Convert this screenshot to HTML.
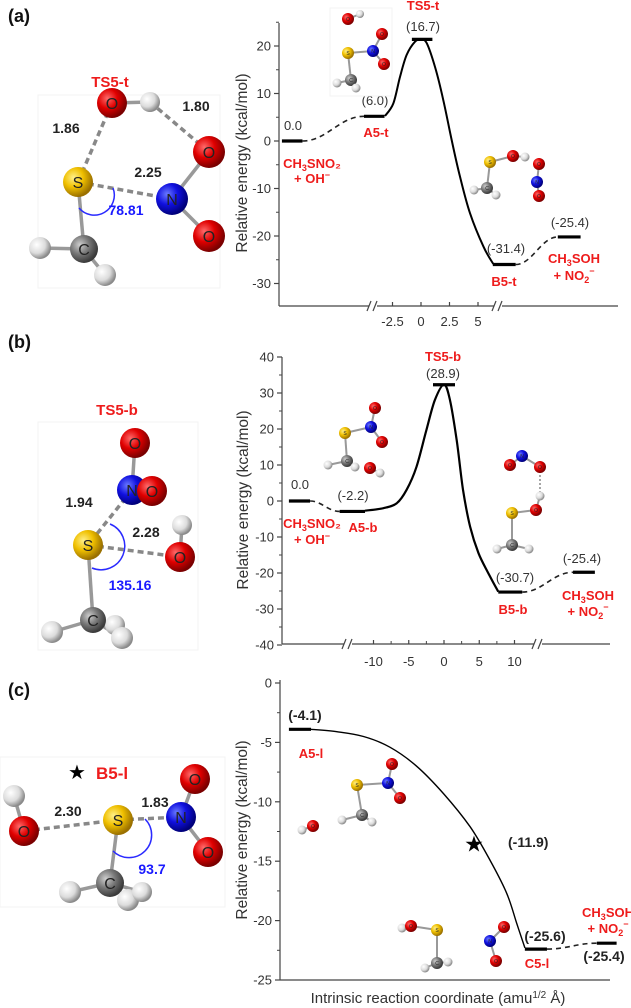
<!DOCTYPE html>
<html><head><meta charset="utf-8">
<style>
html,body{margin:0;padding:0;background:#fff;}
svg{display:block;font-family:"Liberation Sans",Arial,sans-serif;}
.tick{font-size:13px;fill:#333;}
.lab{font-size:13px;fill:#333;}
.red{font-size:13px;fill:#ee1c1c;font-weight:bold;}
.bl{font-size:14px;font-weight:bold;fill:#222;}
.blue{font-size:14px;font-weight:bold;fill:#1a1aff;}
</style></head>
<body>
<svg id="fig" width="631" height="1008" viewBox="0 0 631 1008" xmlns="http://www.w3.org/2000/svg">
<defs>
<radialGradient id="gO" cx="35%" cy="35%" r="65%"><stop offset="0" stop-color="#ff6b6b"/><stop offset="0.5" stop-color="#e00000"/><stop offset="1" stop-color="#7a0000"/></radialGradient>
<radialGradient id="gN" cx="35%" cy="35%" r="65%"><stop offset="0" stop-color="#6b7bff"/><stop offset="0.5" stop-color="#1010e0"/><stop offset="1" stop-color="#00007a"/></radialGradient>
<radialGradient id="gS" cx="35%" cy="35%" r="65%"><stop offset="0" stop-color="#fff08a"/><stop offset="0.5" stop-color="#f0c000"/><stop offset="1" stop-color="#9a7000"/></radialGradient>
<radialGradient id="gC" cx="35%" cy="35%" r="65%"><stop offset="0" stop-color="#cfcfcf"/><stop offset="0.5" stop-color="#7a7a7a"/><stop offset="1" stop-color="#3a3a3a"/></radialGradient>
<radialGradient id="gH" cx="35%" cy="35%" r="65%"><stop offset="0" stop-color="#ffffff"/><stop offset="0.6" stop-color="#dcdcdc"/><stop offset="1" stop-color="#8a8a8a"/></radialGradient>
</defs>
<g id="root"></g>
</svg>
<script>
// ---------- chart data ----------
// Panel (a)
const aLevelNames = ["reactant","A5-t","TS5-t","B5-t","product"];
const aLevelE = [0, 5.2, 21.4, -26, -20.2];
const aLevelU0 = [-12.2, -5, -0.8, 6.3, 12];
const aLevelU1 = [-10.4, -3.2, 1, 8.3, 14];
const aIrcU = [-3.16,-2.43,-1.84,-1.26,-0.53,0,0.5,1.23,1.96,2.69,3.42,4.3,5.47,6.34];
const aIrcE = [5.26,7.9,13.5,18.1,20.9,21.3,20.6,15.6,8.6,0.2,-7.5,-15.2,-22.2,-25.9];
const aYTicks = [20,10,0,-10,-20,-30];
const aXTicks = [-2.5,0,2.5,5];
// Panel (b)
const bLevelE = [0, -2.9, 32.3, -25.3, -19.8];
const bLevelU0 = [-22, -14.8, -1.56, 7.7, 18.3];
const bLevelU1 = [-19, -11.2, 1.56, 11.1, 21.4];
const bIrcU = [-11.2,-8.6,-6.7,-5.3,-3.9,-2.5,-1.3,0,0.85,1.8,2.7,3.7,4.9,6.3,7.7];
const bIrcE = [-2.7,-2.0,-0.6,3.1,9.5,19.7,28,32.3,28,16.9,3.1,-7.1,-14.5,-20.1,-25.2];
const bYTicks = [40,30,20,10,0,-10,-20,-30,-40];
const bXTicks = [-10,-5,0,5,10];
// Panel (c)
const cLevelE = [-3.9, -22.4, -21.9];
const cLevelU0 = [2.7, 74.2, 96];
const cLevelU1 = [9.4, 80.9, 102];
const cIrcU = [9.4,17.2,25.3,33.3,41.4,49.5,57.6,63.6,68.7,71.7,74.2];
const cIrcE = [-3.9,-4.1,-4.5,-5.4,-7.0,-9.3,-12.1,-14.9,-17.7,-20.2,-22.3];
const cStar = [58.8, -13.5];
const cYTicks = [0,-5,-10,-15,-20,-25];

const NS="http://www.w3.org/2000/svg";
const root=document.getElementById('root');
function mk(tag,attrs,parent){const e=document.createElementNS(NS,tag);for(const k in attrs)e.setAttribute(k,attrs[k]);(parent||root).appendChild(e);return e;}
function txt(x,y,s,cls,anchor,parent){const t=mk('text',{x:x,y:y,class:cls,'text-anchor':anchor||'middle'},parent);t.textContent=s;return t;}

// scales
const ax=u=>421+11.4*u, ay=E=>141-4.75*E;
const bx=u=>444+7.05*u, by=E=>501-3.6*E;
const cx=u=>280+3.3*u;
const cyy=E=>683+11.88*(-E);

function axes(g,x0,yTop,yBot,xR,breaks){
  let l=mk('line',{x1:x0,y1:yTop,x2:x0,y2:yBot,stroke:'#444','stroke-width':1.2},g);
  
  if(!breaks){mk('line',{x1:x0,y1:yBot,x2:xR,y2:yBot,stroke:'#444','stroke-width':1.2},g);return;}
  let segs=[x0].concat(...breaks.map(b=>[b-4,b+4])).concat([xR]);
  for(let i=0;i<segs.length;i+=2){mk('line',{x1:segs[i],y1:yBot,x2:segs[i+1],y2:yBot,stroke:'#444','stroke-width':1.2},g);}
  breaks.forEach(b=>{[-4,2].forEach(d=>{mk('line',{x1:b+d-2,y1:yBot+5,x2:b+d+2,y2:yBot-5,stroke:'#444','stroke-width':1.2},g);});});
}
function yTicks(g,x0,ticks,sy,minorStep){
  const lo=Math.min(...ticks);
  ticks.forEach(t=>{const y=sy(t);
    const tk=mk('line',{x1:x0-5,y1:y,x2:x0,y2:y,stroke:'#444','stroke-width':1.2},g);
    
    const lb=txt(x0-8,y+4.5,String(t),'tick','end',g);
    
    if(minorStep && t>lo){const ym=sy(t-minorStep);mk('line',{x1:x0-3,y1:ym,x2:x0,y2:ym,stroke:'#444','stroke-width':1},g);}
  });
}
function xTicks(g,ticks,sx,yBot,labY){
  ticks.forEach(t=>{const x=sx(t);
    mk('line',{x1:x,y1:yBot,x2:x,y2:yBot-4,stroke:'#444','stroke-width':1.2},g);
    const lb=txt(x,labY,String(t),'tick','middle',g);
    
  });
}
function levels(g,E,U0,U1,sx,sy){
  E.forEach((e,i)=>{const b=mk('line',{x1:sx(U0[i]),y1:sy(e),x2:sx(U1[i]),y2:sy(e),stroke:'#000','stroke-width':3.2},g);
    });
}
function curve(g,U,E,sx,sy,w){
  const P=U.map((u,i)=>[sx(u),sy(E[i])]);
  let d='M'+P[0][0].toFixed(1)+','+P[0][1].toFixed(1);
  for(let i=0;i<P.length-1;i++){
    const p0=P[Math.max(0,i-1)],p1=P[i],p2=P[i+1],p3=P[Math.min(P.length-1,i+2)];
    const c1=[p1[0]+(p2[0]-p0[0])/6,p1[1]+(p2[1]-p0[1])/6];
    const c2=[p2[0]-(p3[0]-p1[0])/6,p2[1]-(p3[1]-p1[1])/6];
    d+=`C${c1[0].toFixed(1)},${c1[1].toFixed(1)} ${c2[0].toFixed(1)},${c2[1].toFixed(1)} ${p2[0].toFixed(1)},${p2[1].toFixed(1)}`;
  }
  const p=mk('path',{d:d,fill:'none',stroke:'#000','stroke-width':w,'stroke-linejoin':'round'},g);
  
}
function dashed(g,x1,y1,x2,y2){
  const p=mk('path',{d:`M${x1},${y1} C${(x1*0.6+x2*0.4)},${y1} ${(x1*0.4+x2*0.6)},${y2} ${x2},${y2}`,fill:'none',stroke:'#222','stroke-width':1.6,'stroke-dasharray':'5,4'},g);
  
}
function ylabel(g,x,y,s){const t=mk('text',{x:0,y:0,transform:`translate(${x},${y}) rotate(-90)`,'text-anchor':'middle',style:'font-size:15.5px;fill:#333'},g);t.textContent=s;
  }
function chem(g,x,y,main,sub,rest){const t=mk('text',{x:x,y:y,class:'red','text-anchor':'middle'},g);
  t.appendChild(document.createTextNode(main));
  const s=mk('tspan',{'font-size':'9','dy':'3'},t);s.textContent=sub;
  const r=mk('tspan',{'dy':'-3'},t);r.textContent=rest;return t;}
function plus(g,x,y,main,sub){const t=mk('text',{x:x,y:y,class:'red','text-anchor':'middle'},g);
  t.appendChild(document.createTextNode(main));
  if(sub){const s=mk('tspan',{'font-size':'9','dy':'3'},t);s.textContent=sub;}
  const r=mk('tspan',{'font-size':'9','dy':sub?'-9':'-5'},t);r.textContent='−';return t;}

const cols={O:'gO',N:'gN',S:'gS',C:'gC',H:'gH'};
function molecule(name,atoms,bonds,dashes,scale){
  const g=mk('g',{});
  bonds.forEach(b=>{const a=atoms[b[0]],c=atoms[b[1]];mk('line',{x1:a[1],y1:a[2],x2:c[1],y2:c[2],stroke:'#999','stroke-width':scale?2:3.5},g);});
  dashes.forEach(b=>{const a=atoms[b[0]],c=atoms[b[1]];mk('line',{x1:a[1],y1:a[2],x2:c[1],y2:c[2],stroke:'#888','stroke-width':scale?1.5:3.5,'stroke-dasharray':scale?'2,2':'6,4'},g);});
  atoms.forEach(a=>{mk('circle',{cx:a[1],cy:a[2],r:a[3],fill:`url(#${cols[a[0]]})`},g);
    if(a[0]!=='H'){const t=txt(a[1],a[2]+(scale?2:6),a[0],'','middle',g);t.setAttribute('style',`font-size:${scale?5:16}px;fill:#222`);}});
  return g;
}
function frame(x,y,w,h){mk('rect',{x:x,y:y,width:w,height:h,fill:'none',stroke:'#f3f3f3','stroke-width':1});}

[['(a)',8,22],['(b)',8,348],['(c)',8,696]].forEach(p=>{const t=txt(p[1],p[2],p[0],'','start');t.setAttribute('style','font-size:18px;font-weight:bold;fill:#111');});

frame(38,95,182,193);
molecule('ts5-t-structure',
 [['O',112,103,15],['H',150,102,10],['S',78,182,15],['N',172,199,16],['O',209,152,16],['O',209,236,16],['C',84,249,14],['H',40,248,11],['H',105,275,11]],
 [[0,1],[3,4],[3,5],[2,6],[6,7],[6,8]],[[0,2],[2,3],[1,4]]);
mk('path',{d:'M113,188 A20,20 0 0 1 79,208',fill:'none',stroke:'#2a2aff','stroke-width':1.5});
[['1.86',66,133,'bl'],['1.80',196,111,'bl'],['2.25',148,177,'bl'],['78.81',126,215,'blue']].forEach(a=>{const t=txt(a[1],a[2],a[0],a[3]);});
txt(110,87,'TS5-t','red').setAttribute('style','font-size:15px');

frame(38,422,160,228);
molecule('ts5-b-structure',
 [['O',135,443,15],['N',132,490,15],['O',152,491,15],['H',182,525,10],['S',88,545,15],['O',180,557,15],['H',52,632,11],['H',115,625,10],['C',93,620,13],['H',122,638,11]],
 [[0,1],[1,2],[3,5],[4,8],[8,6],[8,7],[8,9]],[[1,4],[4,5]]);
mk('path',{d:'M110,524 A22,22 0 0 1 92,568',fill:'none',stroke:'#2a2aff','stroke-width':1.5});
[['1.94',79,507,'bl'],['2.28',146,537,'bl'],['135.16',130,590,'blue']].forEach(a=>{const t=txt(a[1],a[2],a[0],a[3]);});
txt(117,415,'TS5-b','red').setAttribute('style','font-size:15px');

frame(0,757,225,150);
molecule('b5-l-structure',
 [['H',14,796,11],['O',24,831,15],['S',118,820,15],['N',181,817,15],['O',195,779,15],['O',208,852,15],['H',70,892,11],['C',110,883,14],['H',128,900,11],['H',142,892,10]],
 [[0,1],[3,4],[3,5],[2,7],[7,6],[7,8],[7,9]],[[1,2],[2,3]]);
mk('path',{d:'M145,819 A20,20 0 0 1 113,851',fill:'none',stroke:'#2a2aff','stroke-width':1.5});
[['2.30',68,816,'bl'],['1.83',155,807,'bl'],['93.7',152,874,'blue']].forEach(a=>{const t=txt(a[1],a[2],a[0],a[3]);});
txt(77,779,'★','').setAttribute('style','font-size:20px;fill:#000');
txt(96,779,'B5-l','red','start').setAttribute('style','font-size:17px');

// Panel a
const ga=mk('g',{});
axes(ga,279,23,306,618,[373,498]);
yTicks(ga,279,aYTicks,ay,5);
mk('line',{x1:276,y1:ay(25),x2:279,y2:ay(25),stroke:'#444'},ga);
xTicks(ga,aXTicks,ax,306,326);
ylabel(ga,247,163,'Relative energy (kcal/mol)');
levels(ga,aLevelE,aLevelU0,aLevelU1,ax,ay);
curve(ga,aIrcU,aIrcE,ax,ay,2);
dashed(ga,ax(aLevelU1[0]),ay(aLevelE[0]),ax(aLevelU0[1]),ay(aLevelE[1]));
dashed(ga,ax(aLevelU1[3]),ay(aLevelE[3]),ax(aLevelU0[4]),ay(aLevelE[4]));
txt(293,130,'0.0','lab',null,ga);txt(375,105,'(6.0)','lab',null,ga);txt(423,31,'(16.7)','lab',null,ga);
txt(423,10,'TS5-t','red',null,ga);txt(376,137,'A5-t','red',null,ga);
chem(ga,312,168,'CH','3','SNO₂');plus(ga,312,183,'+ OH');
txt(506,253,'(-31.4)','lab',null,ga);txt(504,286,'B5-t','red',null,ga);txt(570,227,'(-25.4)','lab',null,ga);
chem(ga,574,263,'CH','3','SOH');plus(ga,574,280,'+ NO','2');
frame(330,8,62,88);
molecule('a5-t-inset',[['O',348,19,6],['H',360,14,4],['S',348,53,6],['N',373,51,6],['O',382,34,6],['O',384,64,6],['C',351,80,6],['H',337,83,4.5],['H',356,88,4.5]],[[0,1],[2,3],[3,4],[3,5],[2,6],[6,7],[6,8]],[],1);
molecule('b5-t-inset',[['S',490,162,6],['O',513,156,6],['H',525,157,4.5],['O',539,164,6],['N',537,182,6],['O',539,196,6],['C',487,188,6],['H',474,190,4.5],['H',496,195,4.5]],[[0,1],[1,2],[3,4],[4,5],[0,6],[6,7],[6,8]],[],1);

// Panel b
const gb=mk('g',{});
axes(gb,282,357,644,610,[348,538]);
yTicks(gb,282,bYTicks,by,5);
xTicks(gb,bXTicks,bx,644,666);
[-7.5,-2.5,2.5,7.5].forEach(t=>mk('line',{x1:bx(t),y1:644,x2:bx(t),y2:641,stroke:'#444'},gb));
ylabel(gb,248,500,'Relative energy (kcal/mol)');
levels(gb,bLevelE,bLevelU0,bLevelU1,bx,by);
curve(gb,bIrcU,bIrcE,bx,by,2.2);
dashed(gb,bx(bLevelU1[0]),by(bLevelE[0]),bx(bLevelU0[1]),by(bLevelE[1]));
dashed(gb,bx(bLevelU1[3]),by(bLevelE[3]),bx(bLevelU0[4]),by(bLevelE[4]));
txt(443,361,'TS5-b','red',null,gb);txt(443,378,'(28.9)','lab',null,gb);
txt(300,489,'0.0','lab',null,gb);txt(353,500,'(-2.2)','lab',null,gb);
chem(gb,312,528,'CH','3','SNO₂');plus(gb,312,544,'+ OH');
txt(363,532,'A5-b','red',null,gb);
txt(515,582,'(-30.7)','lab',null,gb);txt(513,614,'B5-b','red',null,gb);txt(582,563,'(-25.4)','lab',null,gb);
chem(gb,588,600,'CH','3','SOH');plus(gb,588,616,'+ NO','2');
molecule('a5-b-inset',[['O',375,408,6],['S',345,433,6],['N',371,427,6],['O',382,442,6],['C',347,461,6],['H',328,465,4.5],['H',355,467,4.5],['O',370,468,6],['H',380,473,4.5]],[[0,2],[1,2],[2,3],[1,4],[4,5],[4,6],[7,8]],[],1);
molecule('b5-b-inset',[['N',522,456,6],['O',510,465,6],['O',540,467,6],['H',540,496,4.5],['O',536,510,6],['S',512,513,6],['C',512,545,6],['H',497,549,4.5],['H',529,549,4.5]],[[0,1],[0,2],[3,4],[4,5],[5,6],[6,7],[6,8]],[[2,3]],1);

// Panel c
const gc=mk('g',{});
axes(gc,280,680,980,610,null);
yTicks(gc,280,cYTicks,cyy,2.5);
ylabel(gc,247,830,'Relative energy (kcal/mol)');
levels(gc,cLevelE,cLevelU0,cLevelU1,cx,cyy);
curve(gc,cIrcU,cIrcE,cx,cyy,1.4);
dashed(gc,cx(cLevelU1[1]),cyy(cLevelE[1]),cx(cLevelU0[2]),cyy(cLevelE[2]));
const st=txt(cx(cStar[0]),cyy(cStar[1])+8,'★','',null,gc);st.setAttribute('style','font-size:22px;fill:#000');

txt(508,847,'(-11.9)','bl','start',gc);
txt(305,720,'(-4.1)','bl',null,gc);txt(311,758,'A5-l','red',null,gc);
txt(545,941,'(-25.6)','bl',null,gc);txt(537,968,'C5-l','red',null,gc);txt(604,961,'(-25.4)','bl',null,gc);
chem(gc,608,917,'CH','3','SOH');plus(gc,608,933,'+ NO','2');
const xt=mk('text',{x:438,y:1003,'text-anchor':'middle',style:'font-size:15px;fill:#333'},gc);
xt.appendChild(document.createTextNode('Intrinsic reaction coordinate (amu'));
const sp=mk('tspan',{'font-size':'10','dy':'-5'},xt);sp.textContent='1/2';
const sp2=mk('tspan',{'dy':'5'},xt);sp2.textContent=' Å)';

molecule('a5-l-inset',[['S',357,785,6],['N',388,783,6],['O',392,764,6],['O',400,798,6],['C',362,815,6],['H',342,820,4.5],['H',372,822,4.5],['O',313,826,6],['H',302,830,4.5]],[[0,1],[1,2],[1,3],[0,4],[4,5],[4,6],[7,8]],[],1);
molecule('c5-l-inset',[['H',402,928,4.5],['O',411,926,6],['S',437,930,6],['C',437,963,6],['H',425,968,4.5],['H',448,962,4.5],['N',490,941,6],['O',504,927,6],['O',496,961,6]],[[0,1],[1,2],[2,3],[3,4],[3,5],[6,7],[6,8]],[],1);
</script>
</body></html>
